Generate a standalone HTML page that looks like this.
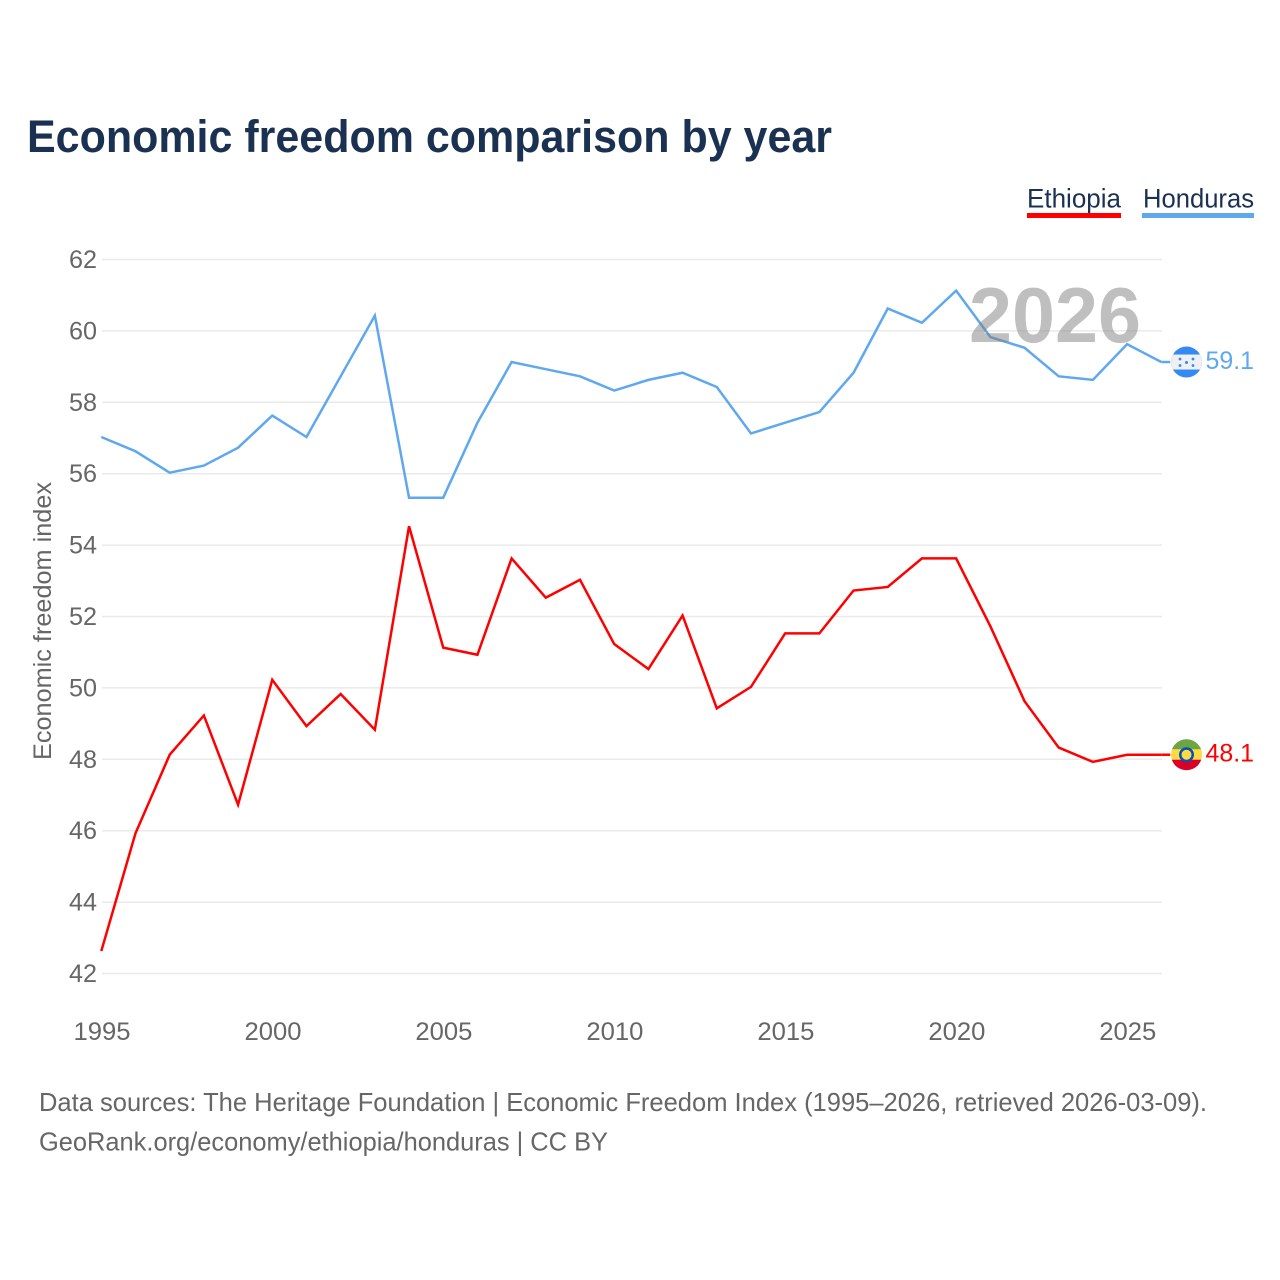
<!DOCTYPE html>
<html lang="en">
<head>
<meta charset="utf-8">
<title>Economic freedom comparison by year</title>
<style>
  html, body { margin: 0; padding: 0; background: #fff; }
  svg { display: block; font-family: "Liberation Sans", sans-serif; }
</style>
</head>
<body>
<svg id="chart" xmlns="http://www.w3.org/2000/svg" width="1280" height="1280" viewBox="0 0 1280 1280">
  <rect width="1280" height="1280" fill="#ffffff"/>
  <text x="27" y="152" font-size="45" font-weight="700" fill="#1a3152" textLength="805" lengthAdjust="spacingAndGlyphs">Economic freedom comparison by year</text>
  <g id="grid"></g>
  <g id="y-ticks"></g>
  <g id="x-ticks"></g>
  <text transform="translate(51 760) rotate(-90)" font-size="25" fill="#666666" textLength="278" lengthAdjust="spacingAndGlyphs">Economic freedom index</text>
  <g id="series" transform="translate(-0.7 -1)"></g>
  <text x="969" y="342" font-size="78" font-weight="700" fill="#808080" fill-opacity="0.5" textLength="172" lengthAdjust="spacingAndGlyphs">2026</text>

  <g>
    <text x="1027" y="207.5" font-size="27" fill="#1a3152" textLength="94" lengthAdjust="spacingAndGlyphs">Ethiopia</text>
    <rect x="1027" y="213" width="94" height="5" fill="#ff0000"/>
  </g>
  <g>
    <text x="1143" y="207.5" font-size="27" fill="#1a3152" textLength="111" lengthAdjust="spacingAndGlyphs">Honduras</text>
    <rect x="1142" y="213" width="112" height="5" fill="#5fa8ee"/>
  </g>

  <defs>
    <clipPath id="flag-clip"><circle cx="0" cy="0" r="15.5"/></clipPath>
  </defs>
  <g id="flag-honduras">
    <g clip-path="url(#flag-clip)">
      <rect x="-16" y="-16" width="32" height="32" fill="#338af3"/>
      <rect x="-16" y="-7.5" width="32" height="15" fill="#f0f0f0"/>
      <g fill="#338af3">
        <circle cx="0" cy="0.5" r="1.5"/>
        <circle cx="-6.5" cy="-3" r="1.4"/>
        <circle cx="6.5" cy="-3" r="1.4"/>
        <circle cx="-6.5" cy="3.5" r="1.4"/>
        <circle cx="6.5" cy="3.5" r="1.4"/>
      </g>
    </g>
  </g>
  <g id="flag-ethiopia">
    <g clip-path="url(#flag-clip)">
      <rect x="-16" y="-16" width="32" height="11" fill="#6da544"/>
      <rect x="-16" y="-5.5" width="32" height="11" fill="#ffda44"/>
      <rect x="-16" y="5" width="32" height="11" fill="#d80027"/>
      <circle cx="0" cy="0" r="7.5" fill="#0052b4"/>
      <circle cx="0" cy="0" r="5" fill="#ffda44"/>
    </g>
  </g>

  <text x="39" y="1111" font-size="26" fill="#666666" textLength="1168" lengthAdjust="spacingAndGlyphs">Data sources: The Heritage Foundation | Economic Freedom Index (1995–2026, retrieved 2026-03-09).</text>
  <text x="39" y="1150.5" font-size="26" fill="#666666" textLength="569" lengthAdjust="spacingAndGlyphs">GeoRank.org/economy/ethiopia/honduras | CC BY</text>
</svg>
<script>
const years = [1995,1996,1997,1998,1999,2000,2001,2002,2003,2004,2005,2006,2007,2008,2009,2010,2011,2012,2013,2014,2015,2016,2017,2018,2019,2020,2021,2022,2023,2024,2025,2026];
const hondurasValues = [57.0,56.6,56.0,56.2,56.7,57.6,57.0,58.7,60.4,55.3,55.3,57.4,59.1,58.9,58.7,58.3,58.6,58.8,58.4,57.1,57.4,57.7,58.8,60.6,60.2,61.1,59.8,59.5,58.7,58.6,59.6,59.1];
const ethiopiaValues = [42.6,45.9,48.1,49.2,46.7,50.2,48.9,49.8,48.8,54.5,51.1,50.9,53.6,52.5,53.0,51.2,50.5,52.0,49.4,50.0,51.5,51.5,52.7,52.8,53.6,53.6,51.7,49.6,48.3,47.9,48.1,48.1];
const yTickValues = [42,44,46,48,50,52,54,56,58,60,62];
const xTickValues = [1995,2000,2005,2010,2015,2020,2025];

const NS = 'http://www.w3.org/2000/svg';
const xScale = function (year) { return 102 + (year - 1995) * (1162 - 102) / (2026 - 1995); };
const yScale = function (value) { return 973.5 - (value - 42) * (973.5 - 259.5) / (62 - 42); };
const svg = document.getElementById('chart');

function make(tag, attrs, parent, content) {
  const el = document.createElementNS(NS, tag);
  Object.keys(attrs).forEach(function (k) { el.setAttribute(k, attrs[k]); });
  if (content !== undefined) { el.textContent = content; }
  parent.appendChild(el);
  return el;
}

const gridGroup = document.getElementById('grid');
const yTickGroup = document.getElementById('y-ticks');
yTickValues.forEach(function (v) {
  const line = make('line', { x1: 102, x2: 1162, y1: yScale(v), y2: yScale(v), stroke: '#eaeaea', 'stroke-width': 1.5 }, gridGroup);
  
  
  const label = make('text', { x: 97, y: yScale(v) + 8.5, 'font-size': 25, fill: '#666666', 'text-anchor': 'end', textLength: 28, lengthAdjust: 'spacingAndGlyphs' }, yTickGroup, String(v));
  
  
});

const xTickGroup = document.getElementById('x-ticks');
xTickValues.forEach(function (v) {
  const label = make('text', { x: xScale(v), y: 1040, 'font-size': 25, fill: '#666666', 'text-anchor': 'middle', textLength: 57, lengthAdjust: 'spacingAndGlyphs' }, xTickGroup, String(v));
  
  
});

const seriesGroup = document.getElementById('series');
function drawSeries(values, color, seriesName, labelName, flagId) {
  const pts = values.map(function (v, i) { return xScale(years[i]) + ',' + yScale(v); }).join(' ');
  const line = make('polyline', { points: pts, fill: 'none', stroke: color, 'stroke-width': 2.5, 'stroke-linejoin': 'miter' }, seriesGroup);
  
  
  const last = values[values.length - 1];
  const lastY = yScale(last);
  const lead = make('line', { x1: xScale(years[years.length - 1]), x2: 1171, y1: lastY, y2: lastY, stroke: color, 'stroke-width': 2.5 }, seriesGroup);
  
  
  document.getElementById(flagId).setAttribute('transform', 'translate(1186.5 ' + (lastY - 1) + ')');
  const label = make('text', { x: 1205.5, y: lastY + 6, 'font-size': 25, fill: color, textLength: 48.5, lengthAdjust: 'spacingAndGlyphs' }, svg, last.toFixed(1));
  
  
}
drawSeries(hondurasValues, '#5fa8ee', 'honduras-line', 'honduras-end-value', 'flag-honduras');
drawSeries(ethiopiaValues, '#ff0000', 'ethiopia-line', 'ethiopia-end-value', 'flag-ethiopia');
</script>
</body>
</html>
